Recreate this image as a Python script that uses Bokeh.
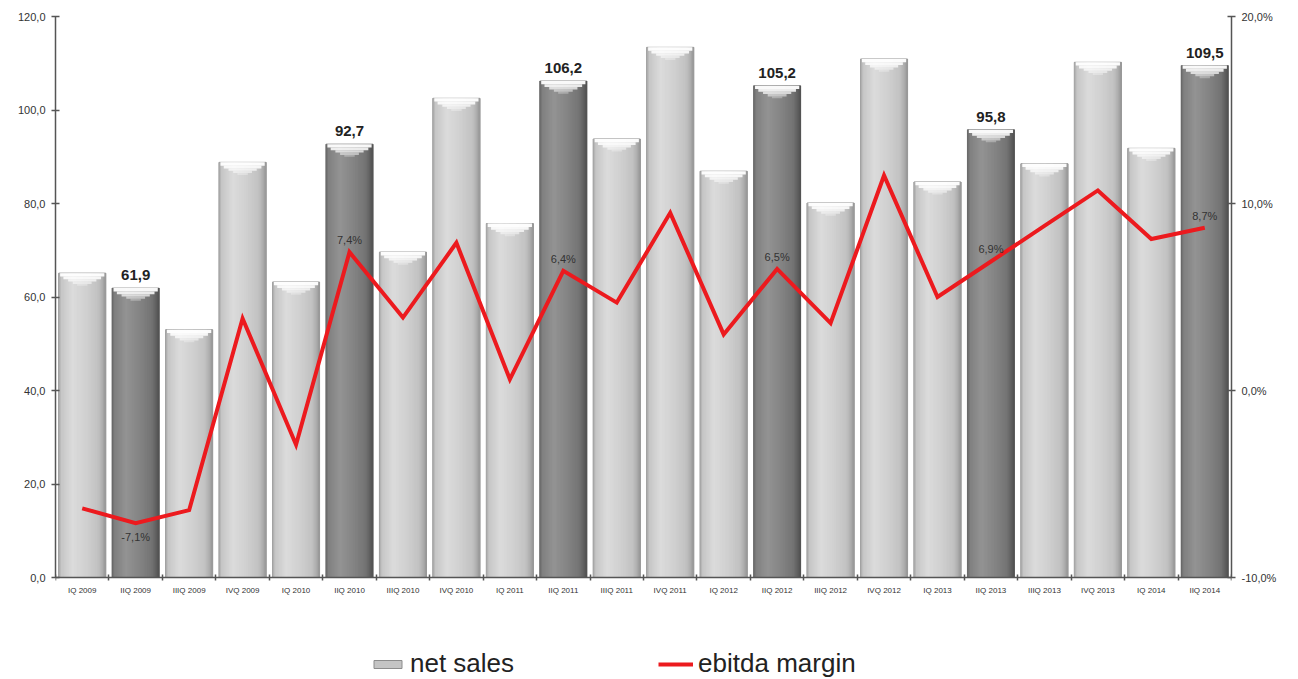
import numpy as np
from bokeh.plotting import figure
from bokeh.models import (Range1d, LinearAxis, FixedTicker, CustomJSTickFormatter,
                          ColumnDataSource, Legend, LegendItem)
from bokeh.core.properties import value
from bokeh.embed import file_html
from bokeh.resources import INLINE

# ---- data -------------------------------------------------------------
quarters = ["IQ 2009", "IIQ 2009", "IIIQ 2009", "IVQ 2009",
            "IQ 2010", "IIQ 2010", "IIIQ 2010", "IVQ 2010",
            "IQ 2011", "IIQ 2011", "IIIQ 2011", "IVQ 2011",
            "IQ 2012", "IIQ 2012", "IIIQ 2012", "IVQ 2012",
            "IQ 2013", "IIQ 2013", "IIIQ 2013", "IVQ 2013",
            "IQ 2014", "IIQ 2014"]
net_sales = [65.1, 61.9, 53.0, 88.8, 63.2, 92.7, 69.6, 102.5, 75.7, 106.2, 93.8,
             113.4, 86.9, 105.2, 80.1, 110.9, 84.6, 95.8, 88.5, 110.2, 91.8, 109.5]
ebitda_margin = [-6.3, -7.1, -6.4, 3.85, -2.9, 7.4, 3.9, 7.9, 0.6, 6.4, 4.7,
                 9.5, 3.0, 6.5, 3.6, 11.5, 5.0, 6.9, 8.8, 10.7, 8.1, 8.7]
sales_ticks = [0, 20, 40, 60, 80, 100, 120]
margin_ticks = [-10, 0, 10, 20]

FONT = "Liberation Sans"
n = len(quarters)
xc = np.arange(n) + 0.5
highlight = np.array([q.startswith("IIQ") for q in quarters])
sales = np.array(net_sales, dtype=float)
margin = np.array(ebitda_margin, dtype=float)

def fmt(v):
    return f"{v:.1f}".replace(".", ",")

# The frame runs to the bottom edge so the legend can sit inside it; the
# value axes are bounded and the category axis is pinned at zero.
W, H = 1298, 679
TOP, ZERO = 16, 577           # pixel rows of the axis top and of zero
span_px = ZERO - TOP
below_px = H - ZERO
s_lo, s_hi = sales_ticks[0], sales_ticks[-1]
m_lo, m_hi = margin_ticks[0], margin_ticks[-1]
y_start = s_lo - (s_hi - s_lo) * below_px / span_px
pct_start = m_lo - (m_hi - m_lo) * below_px / span_px

p = figure(width=W, height=H, output_backend="svg", toolbar_location=None,
           x_range=Range1d(0, n), y_range=Range1d(y_start, s_hi),
           x_axis_location=None,
           min_border_left=55, min_border_right=67, min_border_top=TOP,
           min_border_bottom=0)
p.outline_line_color = None
p.xgrid.visible = False
p.ygrid.visible = False
p.extra_y_ranges = {"pct": Range1d(pct_start, m_hi)}

# ---- cylinder-shaded bars ----------------------------------------------
BW = 0.88
NS = 40
t = (np.arange(NS) + 0.5) / NS
prof_t = [0.0, 0.06, 0.3, 0.6, 0.85, 0.95, 1.0]
light_prof = [160, 198, 220, 208, 194, 170, 150]
dark_prof = [100, 128, 148, 132, 116, 94, 80]

def shade(prof):
    g = np.interp(t, prof_t, prof).astype(int)
    return ["#%02x%02x%02x" % (v, v, v) for v in g]

light_cols = shade(light_prof)
dark_cols = shade(dark_prof)

sx, stop, scol = [], [], []
for i in range(n):
    cols = dark_cols if highlight[i] else light_cols
    for k in range(NS):
        sx.append(xc[i] + (t[k] - 0.5) * BW)
        stop.append(sales[i])
        scol.append(cols[k])

base_src = ColumnDataSource(dict(x=xc, top=sales,
                                 c=np.where(highlight, "#7a7a7a", "#c4c4c4")))
base = p.vbar(x="x", top="top", width=BW, bottom=0, source=base_src,
              fill_color="c", line_color="#8c8c8c", line_width=1)
p.vbar(x=sx, top=stop, width=BW / NS * 1.6, bottom=0, fill_color=scol,
       line_color=None)

# bevelled top highlight
cap_layers = [(0.0, 0.7, 0.94, 0.95), (0.7, 1.3, 0.80, 0.85),
              (1.3, 1.8, 0.60, 0.7), (1.8, 2.3, 0.40, 0.5), (2.3, 2.7, 0.22, 0.3)]
for d0, d1, wf, a in cap_layers:
    p.vbar(x=xc, top=sales - d0, bottom=sales - d1, width=BW * wf,
           fill_color="white", fill_alpha=a, line_color=None)

# value labels on the highlighted quarters
lab_src = ColumnDataSource(dict(x=xc[highlight], y=sales[highlight],
                                t=[fmt(v) for v in sales[highlight]]))
p.text(x="x", y="y", text="t", source=lab_src, text_align="center",
       text_baseline="bottom", y_offset=-8, text_font=value(FONT),
       text_font_size="15px", text_font_style="bold", text_color="#222222")

# ---- ebitda margin line ------------------------------------------------
line = p.line(xc, margin, y_range_name="pct", line_color="#ec1a1e", line_width=4,
              line_join="miter")

up = highlight & (margin >= 0)
dn = highlight & (margin < 0)
p.text(x=xc[up], y=margin[up], text=[fmt(v) + "%" for v in margin[up]],
       y_range_name="pct", text_align="center", text_baseline="bottom",
       y_offset=-6, text_font=value(FONT), text_font_size="11px",
       text_color="#333333")
p.text(x=xc[dn], y=margin[dn], text=[fmt(v) + "%" for v in margin[dn]],
       y_range_name="pct", text_align="center", text_baseline="top",
       y_offset=8, text_font=value(FONT), text_font_size="11px",
       text_color="#333333")

# ---- axes ---------------------------------------------------------------
def style_axis(ax):
    ax.axis_line_color = "#555555"
    ax.axis_line_width = 1.5
    ax.major_tick_line_color = "#555555"
    ax.major_tick_line_width = 1.5
    ax.major_label_text_font = FONT
    ax.major_label_text_color = "#333333"

xa = LinearAxis(fixed_location=0,
                ticker=FixedTicker(ticks=list(xc), minor_ticks=list(np.arange(n + 1))))
xa.major_label_overrides = {float(x): q for x, q in zip(xc, quarters)}
style_axis(xa)
xa.major_tick_in = 0
xa.major_tick_out = 0
xa.minor_tick_in = 3
xa.minor_tick_out = 3
xa.minor_tick_line_color = "#555555"
xa.minor_tick_line_width = 1.5
xa.major_label_text_font_size = "8px"
xa.major_label_standoff = 5
p.add_layout(xa, "below")

ya = p.yaxis[0]
ya.ticker = FixedTicker(ticks=sales_ticks)
ya.bounds = (s_lo, s_hi)
ya.formatter = CustomJSTickFormatter(code="return tick.toFixed(1).replace('.', ',');")
style_axis(ya)
ya.major_tick_in = 4
ya.major_tick_out = 4
ya.minor_tick_line_color = None
ya.major_label_text_font_size = "11px"
ya.major_label_standoff = 6

ra = LinearAxis(y_range_name="pct", ticker=FixedTicker(ticks=margin_ticks),
                bounds=(m_lo, m_hi),
                formatter=CustomJSTickFormatter(
                    code="return tick.toFixed(1).replace('.', ',') + '%';"))
style_axis(ra)
ra.major_tick_in = 4
ra.major_tick_out = 4
ra.minor_tick_line_color = None
ra.major_label_text_font_size = "11px"
ra.major_label_standoff = 6
p.add_layout(ra, "right")

# ---- legend -------------------------------------------------------------
legend = Legend(items=[LegendItem(label="net sales", renderers=[base]),
                       LegendItem(label="ebitda margin", renderers=[line])],
                orientation="horizontal", location=(315, 0),
                spacing=144, glyph_width=35, glyph_height=10,
                label_text_font=FONT, label_text_font_size="26px",
                label_text_color="#222222", label_standoff=5,
                label_height=30,
                background_fill_alpha=0, border_line_color=None, padding=0,
                margin=0)
p.add_layout(legend, "center")

open("out.html", "w").write(file_html(p, INLINE))
